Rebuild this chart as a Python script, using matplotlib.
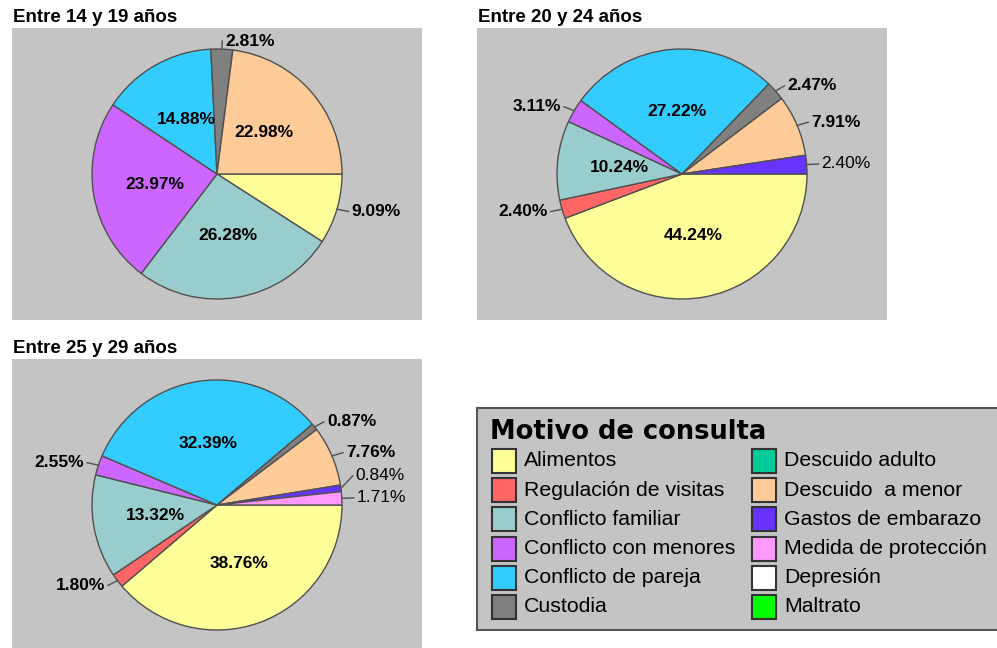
import matplotlib
matplotlib.use('Agg')
import matplotlib.pyplot as plt
from matplotlib.patches import Rectangle
import numpy as np

plt.rcParams['font.family'] = ['Liberation Sans', 'DejaVu Sans']

# ---------------- data ----------------
categories = ["Alimentos", "Regulación de visitas", "Conflicto familiar",
              "Conflicto con menores", "Conflicto de pareja", "Custodia",
              "Descuido adulto", "Descuido  a menor", "Gastos de embarazo",
              "Medida de protección", "Depresión", "Maltrato"]
colors = ["#FFFF99", "#FF6666", "#99CCCC", "#CC66FF", "#33CCFF", "#808080",
          "#00CC99", "#FFCC99", "#6633FF", "#FF99FF", "#FFFFFF", "#00FF00"]

panel_titles = ["Entre 14 y 19 años", "Entre 20 y 24 años", "Entre 25 y 29 años"]
v_14_19 = [9.09, 0, 26.28, 23.97, 14.88, 2.81, 0, 22.98, 0, 0, 0, 0]
v_20_24 = [44.24, 2.40, 10.24, 3.11, 27.22, 2.47, 0, 7.91, 2.40, 0, 0, 0]
v_25_29 = [38.76, 1.80, 13.32, 2.55, 32.39, 0.87, 0, 7.76, 0.84, 1.71, 0, 0]
legend_title = "Motivo de consulta"
plain_label_cats = ["Gastos de embarazo", "Medida de protección"]

# ---------------- layout ----------------
W, H = 997, 648
fig = plt.figure(figsize=(W / 100, H / 100), dpi=100)
fig.patch.set_facecolor('white')


def px_axes(x0, y0, w, h):
    return fig.add_axes([x0 / W, 1 - (y0 + h) / H, w / W, h / H])


BOX_W, BOX_H = 410, 292
PIE_C = (205, 146)
PIE_R = 125
BG = "#C4C4C4"
EDGE = "#505050"
LABEL_FS = 12.5


def draw_pie(ax, values):
    idx = [i for i, v in enumerate(values) if v > 0]
    vals = [values[i] for i in idx]
    cols = [colors[i] for i in idx]
    wedges, _ = ax.pie(vals, colors=cols, startangle=0, counterclock=False,
                       center=PIE_C, radius=PIE_R, frame=True,
                       wedgeprops=dict(edgecolor=EDGE, linewidth=1.0))
    ax.set_xlim(0, BOX_W)
    ax.set_ylim(0, BOX_H)
    ax.set_xticks([])
    ax.set_yticks([])
    ax.set_facecolor(BG)
    for s in ax.spines.values():
        s.set_visible(False)

    cx, cy = PIE_C
    r = PIE_R
    outer = {'right': [], 'left': []}
    for w, i, v in zip(wedges, idx, vals):
        th = np.deg2rad((w.theta1 + w.theta2) / 2)
        txt = f"{v:.2f}%"
        weight = 'normal' if categories[i] in plain_label_cats else 'bold'
        if v >= 10:
            ax.text(cx + 0.5 * r * np.cos(th), cy + 0.5 * r * np.sin(th), txt,
                    ha='center', va='center', fontsize=LABEL_FS, fontweight='bold')
        else:
            side = 'right' if np.cos(th) >= 0 else 'left'
            outer[side].append([th, txt, weight,
                                cy + (r + 8) * np.sin(th)])
    for side, items in outer.items():
        items.sort(key=lambda t: t[3])
        for k in range(1, len(items)):
            items[k][3] = max(items[k][3], items[k - 1][3] + 22)
        for th, txt, weight, ty in items:
            ex, ey = cx + r * np.cos(th), cy + r * np.sin(th)
            tx = cx + (r + 12) * np.cos(th)
            ax.plot([ex, tx], [ey, ty], color=EDGE, lw=1.0)
            if side == 'right':
                ax.text(tx + 3, ty, txt, ha='left', va='center',
                        fontsize=LABEL_FS, fontweight=weight)
            else:
                ax.text(tx - 3, ty, txt, ha='right', va='center',
                        fontsize=LABEL_FS, fontweight=weight)


panels = [(12, 28, v_14_19, panel_titles[0]),
          (477, 28, v_20_24, panel_titles[1]),
          (12, 359, v_25_29, panel_titles[2])]
for x0, y0, vals, title in panels:
    ax = px_axes(x0, y0, BOX_W, BOX_H)
    draw_pie(ax, vals)
    fig.text((x0 + 1) / W, 1 - (y0 - 11) / H, title, ha='left', va='center',
             fontsize=13.5, fontweight='bold')

# ---------------- legend ----------------
LW, LH = 530, 222
lax = px_axes(477, 408, LW, LH)
lax.set_xlim(0, LW)
lax.set_ylim(LH, 0)
lax.set_xticks([])
lax.set_yticks([])
lax.set_facecolor(BG)
for s in lax.spines.values():
    s.set_color("#555555")
    s.set_linewidth(1.5)

lax.text(13, 24, legend_title, ha='left', va='center', fontsize=18.5,
         fontweight='bold', family='DejaVu Sans')
for k, (cat, col) in enumerate(zip(categories, colors)):
    colx = k // 6
    row = k % 6
    yc = 53 + row * 29.2
    sx = 15 if colx == 0 else 275
    lax.add_patch(Rectangle((sx, yc - 12), 24, 24, facecolor=col,
                            edgecolor="#333333", linewidth=1.5))
    lax.text(sx + 32, yc, cat, ha='left', va='center', fontsize=15.3)

fig.savefig("out.png", dpi=100, facecolor='white')
